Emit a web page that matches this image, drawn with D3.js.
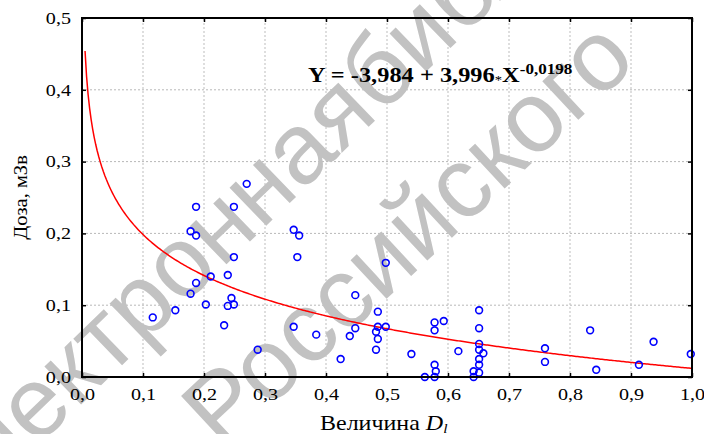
<!DOCTYPE html>
<html><head><meta charset="utf-8">
<script src="https://cdn.jsdelivr.net/npm/d3@7"></script>
<style>
body { margin: 0; background: #fff; }
svg { display: block; }
text { font-family: "Liberation Serif", "Times New Roman", serif; }
</style></head>
<body>
<svg width="704" height="434"></svg>
<script>
// measured points: величина D_l and доза (мЗв)
const dl = [0.270,0.187,0.249,0.178,0.187,0.347,0.356,0.249,0.353,0.211,0.239,0.187,0.178,0.245,0.203,0.239,0.249,0.153,0.116,0.233,0.347,0.384,0.288,
  0.498,0.448,0.485,0.651,0.448,0.485,0.498,0.482,0.439,0.485,0.578,0.593,0.578,0.651,0.651,0.482,0.540,0.617,0.651,0.658,0.651,0.651,0.651,0.424,0.578,0.580,0.562,0.578,0.642,0.642,
  0.759,0.759,0.833,0.843,0.913,0.937,0.998];
const dose = [0.269,0.237,0.237,0.203,0.197,0.205,0.197,0.167,0.167,0.140,0.142,0.131,0.116,0.110,0.101,0.099,0.101,0.093,0.083,0.072,0.070,0.059,0.038,
  0.159,0.114,0.091,0.093,0.068,0.070,0.070,0.063,0.057,0.053,0.076,0.078,0.065,0.068,0.046,0.038,0.032,0.036,0.038,0.033,0.025,0.017,0.006,0.025,0.017,0.008,0.000,0.000,0.008,0.000,
  0.040,0.021,0.065,0.010,0.017,0.049,0.032];

// fitted curve Y = a + b*X^c (from the chart's equation)
const fitCoef = [-3.984, 3.996, -0.0198];
const fitRange = [0.005, 1.0];

const xTicks = [0, 0.1, 0.2, 0.3, 0.4, 0.5, 0.6, 0.7, 0.8, 0.9, 1.0];
const xTickLabels = ["0,0","0,1","0,2","0,3","0,4","0,5","0,6","0,7","0,8","0,9","1,0"];
const yTicks = [0, 0.1, 0.2, 0.3, 0.4, 0.5];
const yTickLabels = ["0,0","0,1","0,2","0,3","0,4","0,5"];

const watermark = ["Электронная", " библиотека", "Российского"];

const width = 704, height = 434;
const sx = 1.22; // the source fonts are drawn wider than Times

let svg = d3.select("svg");

let x = d3.scaleLinear().domain([0, 1]).range([82, 692]);
let y = d3.scaleLinear().domain([0, 0.5]).range([377, 18]);

// grid
svg.append("g")
  .selectAll("line")
  .data(xTicks.slice(1, -1))
  .enter().append("line")
    .attr("x1", d => x(d)).attr("x2", d => x(d))
    .attr("y1", y(0)).attr("y2", y(0.5))
    .attr("stroke", "#c8c8c8").attr("stroke-width", 1.2)
    .attr("stroke-dasharray", "2,2");

svg.append("g")
  .selectAll("line")
  .data(yTicks.slice(1, -1))
  .enter().append("line")
    .attr("x1", x(0)).attr("x2", x(1))
    .attr("y1", d => y(d)).attr("y2", d => y(d))
    .attr("stroke", "#b8b8b8").attr("stroke-width", 1)
    .attr("stroke-dasharray", "2,2");

// watermark
let wm = svg.append("g")
  .attr("fill", "#c2c2c2");

wm.append("text")
  .attr("transform", "translate(380,116) rotate(-44)")
  .attr("text-anchor", "end")
  .style("font-family", "'Liberation Sans', Arial, sans-serif")
  .style("font-size", "100px")
  .text(watermark[0]);
wm.append("text")
  .attr("transform", "translate(380,116) rotate(-44)")
  .style("font-family", "'Liberation Sans', Arial, sans-serif")
  .style("font-size", "100px")
  .text(watermark[1]);
wm.append("text")
  .attr("transform", "translate(222,452) rotate(-43)")
  .style("font-family", "'Liberation Sans', Arial, sans-serif")
  .style("font-size", "100px")
  .text(watermark[2]);

// fitted curve
let curveX = d3.range(fitRange[0], fitRange[1] + 0.0001, 0.0025);
let line = d3.line()
  .x(d => x(d))
  .y(d => y(fitCoef[0] + fitCoef[1] * Math.pow(d, fitCoef[2])));

svg.append("path")
  .datum(curveX)
  .attr("d", line)
  .attr("fill", "none")
  .attr("stroke", "#ff0000")
  .attr("stroke-width", 1.5);

// points
svg.append("g")
  .selectAll("circle")
  .data(dl.map((d, i) => [d, dose[i]]))
  .enter().append("circle")
    .attr("cx", d => x(d[0]))
    .attr("cy", d => y(d[1]))
    .attr("r", 3.4)
    .attr("fill", "none")
    .attr("stroke", "#0000ff")
    .attr("stroke-width", 1.6);

// axes with inward ticks
let gx = svg.append("g")
  .attr("transform", "translate(0," + y(0) + ")")
  .call(d3.axisBottom(x).tickValues(xTicks)
    .tickFormat((d, i) => xTickLabels[i])
    .tickSizeInner(-4).tickSizeOuter(0).tickPadding(11));

let gy = svg.append("g")
  .attr("transform", "translate(" + x(0) + ",0)")
  .call(d3.axisLeft(y).tickValues(yTicks)
    .tickFormat((d, i) => yTickLabels[i])
    .tickSizeInner(-4).tickSizeOuter(0).tickPadding(11));

let gt = svg.append("g")
  .attr("transform", "translate(0," + y(0.5) + ")")
  .call(d3.axisTop(x).tickValues(xTicks).tickFormat("").tickSizeInner(-4).tickSizeOuter(0));

let gr = svg.append("g")
  .attr("transform", "translate(" + x(1) + ",0)")
  .call(d3.axisRight(y).tickValues(yTicks).tickFormat("").tickSizeInner(-4).tickSizeOuter(0));

[gx, gy, gt, gr].forEach(g => {
  g.select(".domain").remove();
  g.selectAll(".tick line").attr("stroke", "#000").attr("stroke-width", 1.5);
});

gx.selectAll("text")
  .style("font-family", "'Liberation Serif', serif")
  .style("font-size", "16.5px")
  .attr("fill", "#000")
  .attr("transform", "scale(" + sx + ",1)");

gy.selectAll("text")
  .style("font-family", "'Liberation Serif', serif")
  .style("font-size", "16.5px")
  .attr("fill", "#000")
  .attr("x", -11 / sx)
  .attr("transform", "scale(" + sx + ",1)");

// frame
svg.append("rect")
  .attr("x", x(0)).attr("y", y(0.5))
  .attr("width", x(1) - x(0)).attr("height", y(0) - y(0.5))
  .attr("fill", "none")
  .attr("stroke", "#000")
  .attr("stroke-width", 2);

// equation
let fmt = v => String(v).replace(".", ",");
let eq = svg.append("text")
  .attr("transform", "translate(308,82) scale(" + sx + ",1)")
  .style("font-weight", "bold")
  .style("font-size", "20px");
eq.append("tspan").text("Y = " + fmt(fitCoef[0]) + " + " + fmt(fitCoef[1]));
eq.append("tspan").style("font-size", "12px").style("font-weight", "normal").attr("dy", 2).text("*");
eq.append("tspan").attr("dy", -2).text("X");
eq.append("tspan").style("font-size", "14px").attr("dy", -8.5).text(fmt(fitCoef[2]));

// axis titles
svg.append("text")
  .attr("transform", "translate(27," + (y(0) + y(0.5)) / 2 + ") rotate(-90) scale(1.08,1)")
  .attr("text-anchor", "middle")
  .style("font-size", "19px")
  .text("Доза, мЗв");

let xt = svg.append("text")
  .attr("transform", "translate(320,430) scale(1.2,1)")
  .style("font-size", "20px");
xt.append("tspan").text("Величина  ");
xt.append("tspan").style("font-style", "italic").text("D");
xt.append("tspan").style("font-style", "italic").style("font-size", "13px").attr("dy", 3).text("l");
</script>
</body></html>
